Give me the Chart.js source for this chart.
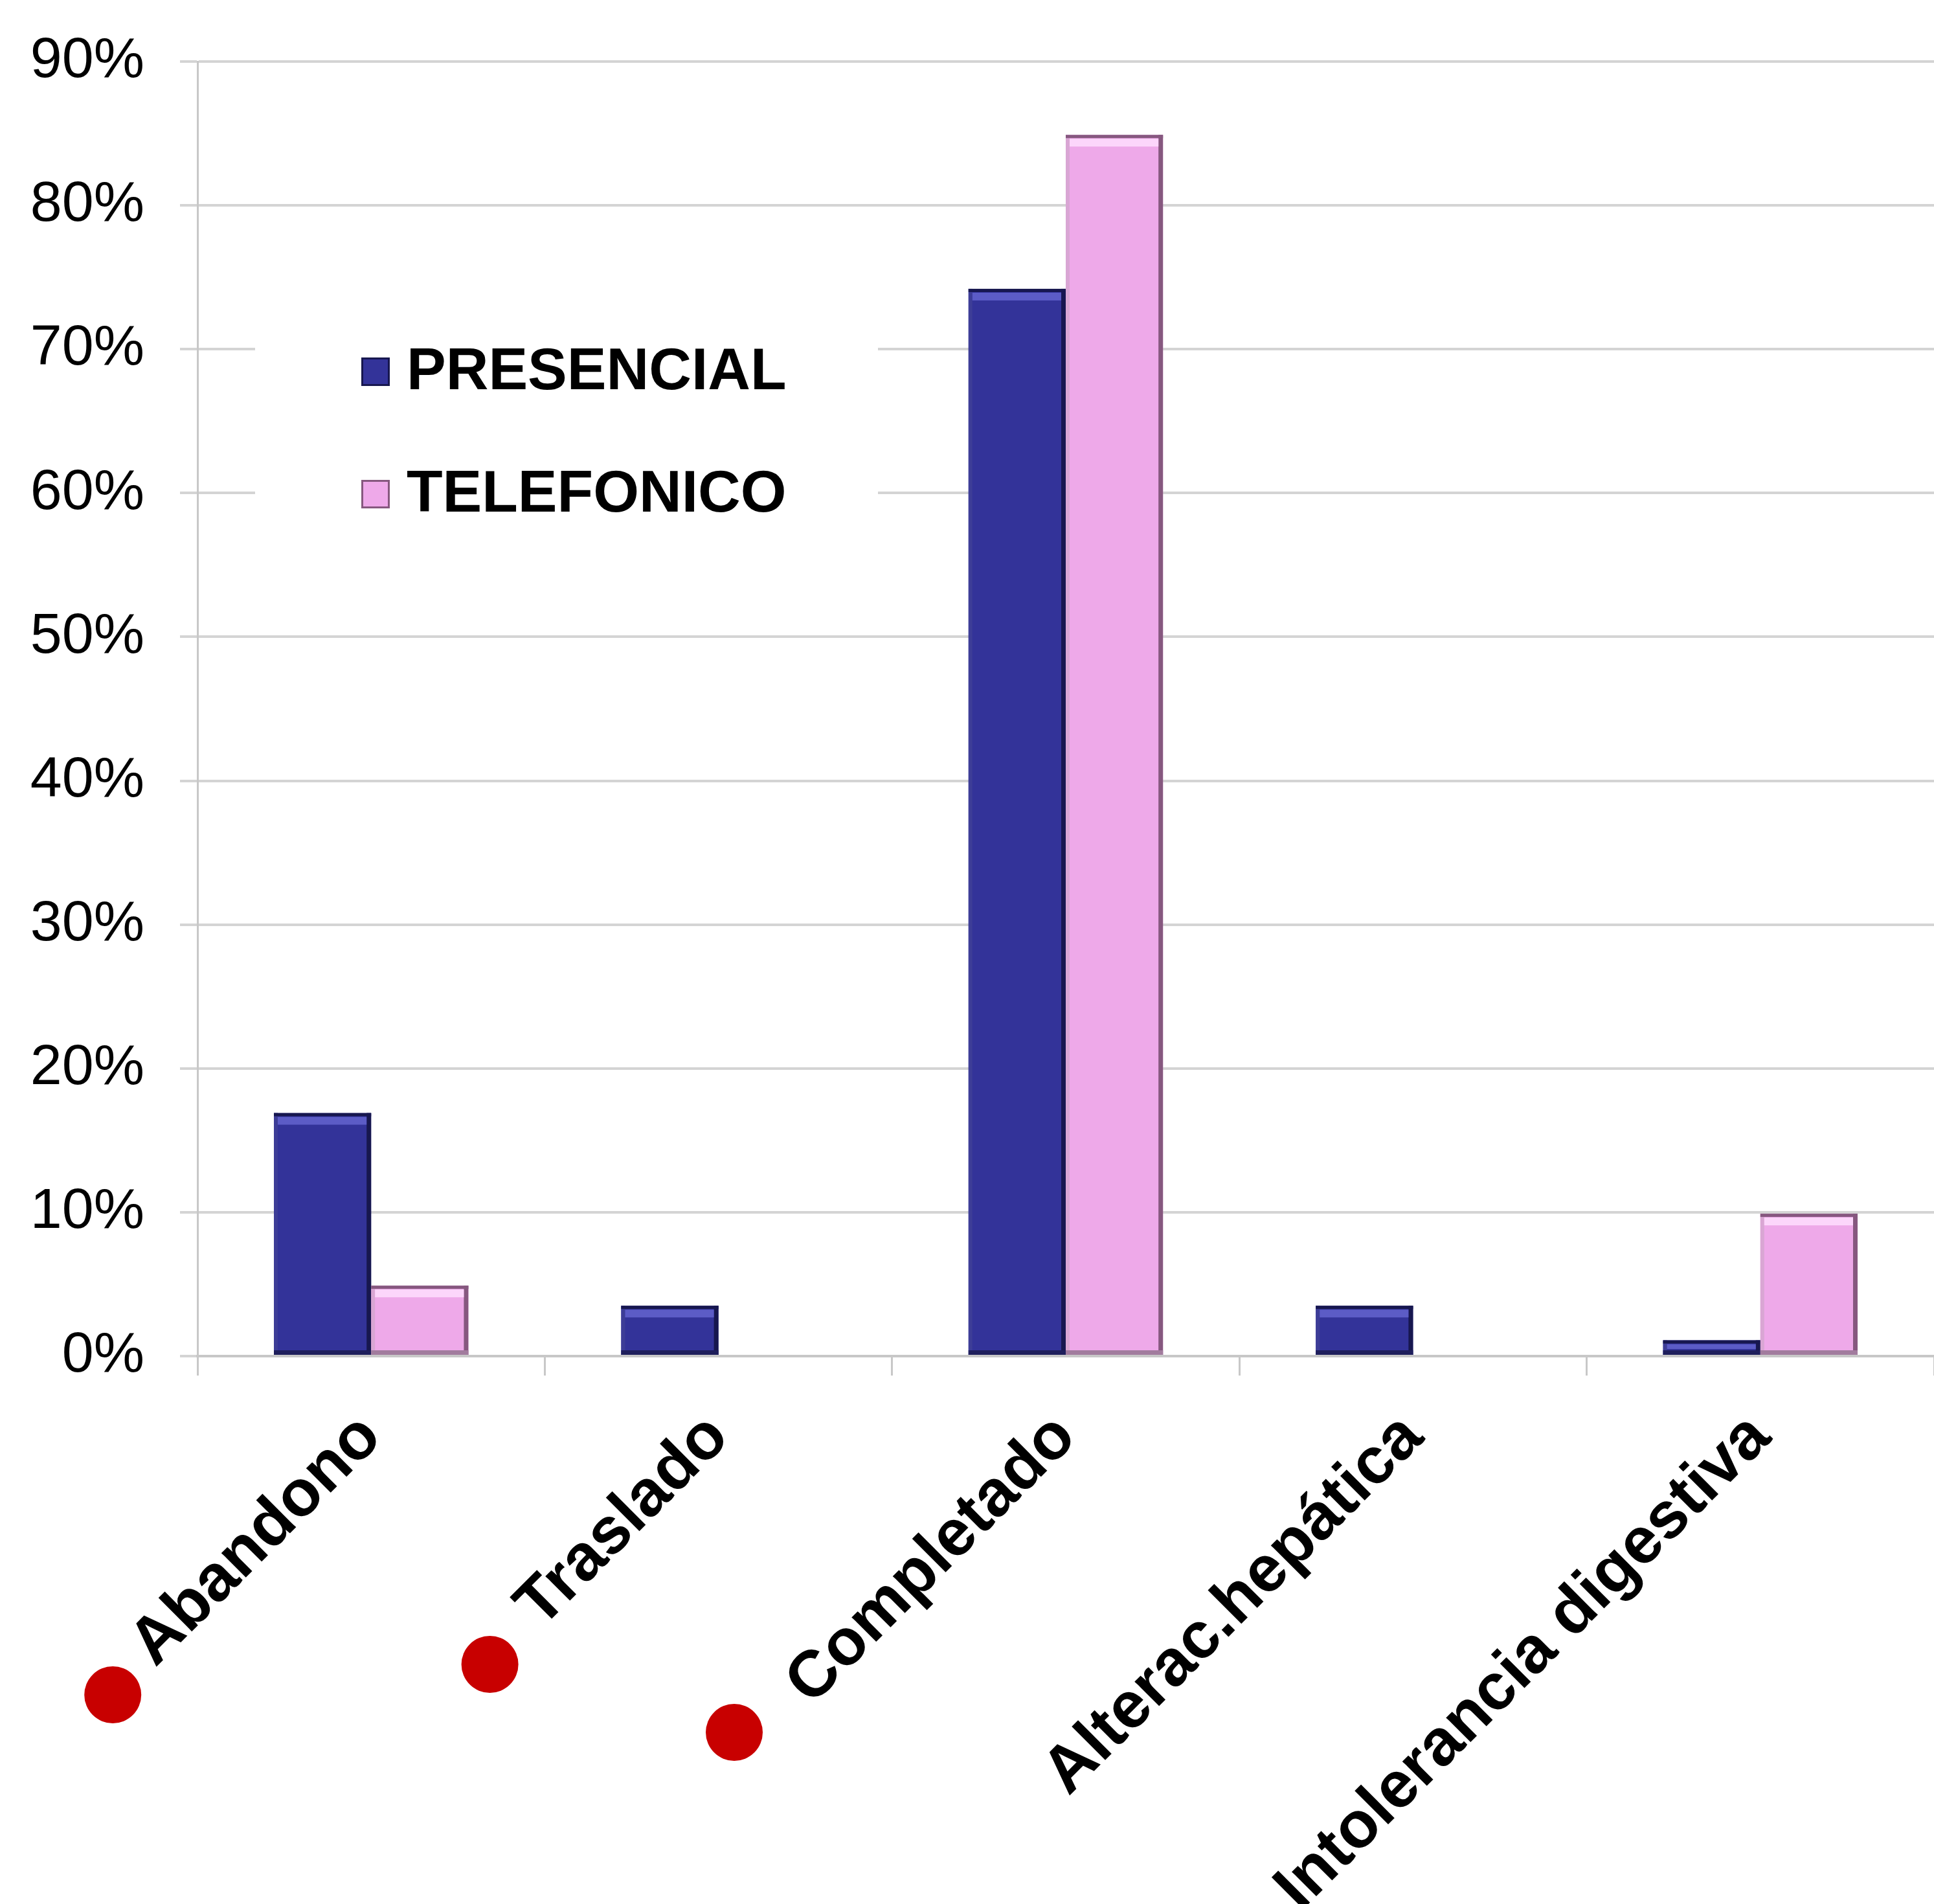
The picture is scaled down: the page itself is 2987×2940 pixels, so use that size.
<!DOCTYPE html>
<html lang="es">
<head>
  <meta charset="UTF-8" />
  <title>Presencial vs Telefonico</title>
  <script src="https://cdn.jsdelivr.net/npm/chart.js"></script>
  <style>
    * { margin: 0; padding: 0; box-sizing: border-box; }
    body { background: #fff; width: 2987px; height: 2940px; overflow: hidden; }
    .chart-box { position: relative; width: 2987px; height: 2940px; }
  </style>
</head>
<body>
  <div class="chart-box">
    <canvas id="chart"></canvas>
  </div>

  <script>
// Data (percent)
const categories = ['Abandono', 'Traslado', 'Completado', 'Alterac.hepática', 'Intolerancia digestiva'];
const presencial = [16.9, 3.5, 74.2, 3.5, 1.1];
const telefonico = [4.9, 0, 84.9, 0, 9.9];
const yTicks = [0, 10, 20, 30, 40, 50, 60, 70, 80, 90];

// Red bullet marks next to the first three labels (offset from the category centre / axis)
const bullets = [
  { index: 0, dx: -399, dy: 523 },
  { index: 1, dx: -353, dy: 476 },
  { index: 2, dx: -512, dy: 581 }
];

const FONT = '"Liberation Sans", Arial, Helvetica, sans-serif';
Chart.defaults.font.family = FONT;
Chart.defaults.color = '#000';

// Bevel look of the original bars
const bevel = {
  PRESENCIAL: { top: '#5c5cc6', left: '#3d3d97', right: '#17174f', bottom: '#1f1f5c' },
  TELEFONICO: { top: '#fcd6fb', left: '#d9a6d4', right: '#86587f', bottom: '#a27c9e' }
};

const bevelPlugin = {
  id: 'bevel',
  afterDatasetsDraw(chart) {
    const ctx = chart.ctx;
    chart.data.datasets.forEach((ds, i) => {
      const c = bevel[ds.label];
      chart.getDatasetMeta(i).data.forEach(bar => {
        const { x, y, base, width } = bar.getProps(['x', 'y', 'base', 'width'], true);
        const h = base - y;
        if (h < 1) return;
        const l = x - width / 2, r = x + width / 2;
        ctx.save();
        ctx.fillStyle = c.left;
        ctx.fillRect(l, y, 6, h);
        ctx.fillStyle = c.right;
        ctx.fillRect(r - 7, y, 7, h);
        ctx.fillStyle = c.bottom;
        ctx.fillRect(l, base - 7, width, 7);
        ctx.fillStyle = c.top;
        ctx.fillRect(l + 6, y + Math.min(6, h / 3), width - 13, Math.min(12, h / 3));
        ctx.fillStyle = c.right;
        ctx.fillRect(l, y, width, Math.min(5, h / 4));
        ctx.restore();
      });
    });
  }
};

// Legend inside the plot, on a white panel
const innerLegend = {
  id: 'innerLegend',
  afterDatasetsDraw(chart) {
    const ctx = chart.ctx;
    ctx.save();
    ctx.fillStyle = '#fff';
    ctx.fillRect(394, 450, 962, 410);
    ctx.font = 'bold 91px ' + FONT;
    ctx.textBaseline = 'middle';
    ctx.textAlign = 'left';
    chart.data.datasets.forEach((ds, i) => {
      const cy = 574 + i * 189;
      ctx.fillStyle = ds.backgroundColor;
      ctx.fillRect(558, cy - 22, 44, 44);
      ctx.strokeStyle = bevel[ds.label].right;
      ctx.lineWidth = 3;
      ctx.strokeRect(559.5, cy - 20.5, 41, 41);
      ctx.fillStyle = '#000';
      ctx.fillText(ds.label, 628, cy + 2);
    });
    ctx.restore();
  }
};

const bulletPlugin = {
  id: 'bullets',
  afterDraw(chart) {
    const ctx = chart.ctx;
    const xs = chart.scales.x;
    ctx.save();
    ctx.fillStyle = '#c80000';
    bullets.forEach(b => {
      ctx.beginPath();
      ctx.arc(xs.getPixelForValue(b.index) + b.dx, xs.top + b.dy, 44, 0, Math.PI * 2);
      ctx.fill();
    });
    ctx.restore();
  }
};

new Chart(document.getElementById('chart'), {
  type: 'bar',
  data: {
    labels: categories,
    datasets: [
      { label: 'PRESENCIAL', data: presencial, backgroundColor: '#333399', borderWidth: 0 },
      { label: 'TELEFONICO', data: telefonico, backgroundColor: '#eea9e9', borderWidth: 0 }
    ]
  },
  options: {
    responsive: true,
    maintainAspectRatio: false,
    animation: false,
    layout: { padding: { top: 95, right: 0, left: 0, bottom: 0 } },
    datasets: { bar: { categoryPercentage: 0.56, barPercentage: 1.0 } },
    plugins: {
      legend: { display: false },
      tooltip: { enabled: false }
    },
    scales: {
      x: {
        offset: true,
        afterFit(scale) { scale.height = 846; },
        grid: { offset: true, drawOnChartArea: false, color: '#c8c8c8', lineWidth: 3, tickLength: 30 },
        border: { color: '#c8c8c8', width: 4 },
        ticks: {
          minRotation: 45,
          maxRotation: 45,
          padding: 36,
          font: { size: 101, weight: 'bold' },
          color: '#000'
        }
      },
      y: {
        min: 0,
        max: 90,
        afterFit(scale) { scale.width = 305; },
        afterBuildTicks(scale) { scale.ticks = yTicks.map(v => ({ value: v })); },
        grid: { color: '#d4d4d4', lineWidth: 4, tickLength: 27 },
        border: { color: '#c8c8c8', width: 3 },
        ticks: {
          padding: 55,
          font: { size: 88, lineHeight: 0.6 },
          color: '#000',
          callback: v => v + '%'
        }
      }
    }
  },
  plugins: [bevelPlugin, innerLegend, bulletPlugin]
});
  </script>
</body>
</html>
